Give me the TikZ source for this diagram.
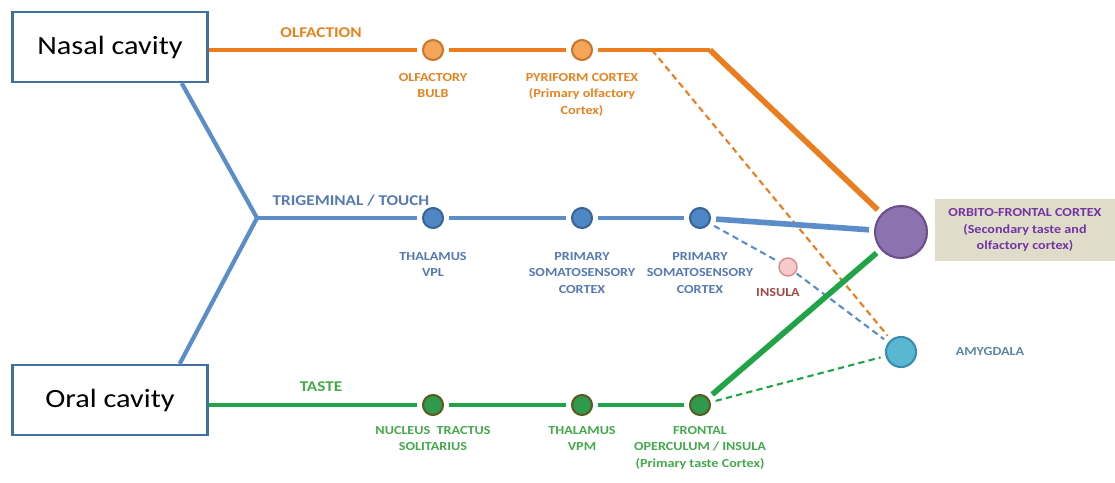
\documentclass[tikz,border=0pt]{standalone}
\usepackage{fontspec}
\setmainfont{Carlito}[FakeStretch=1.15]
\usepackage{xcolor}
\usetikzlibrary{positioning}

\definecolor{olfline}{HTML}{EC7D1F}
\definecolor{olffill}{HTML}{F5A55A}
\definecolor{olfedge}{HTML}{C8782E}
\definecolor{olftext}{HTML}{E8821E}
\definecolor{touchline}{HTML}{5B8DC8}
\definecolor{touchfill}{HTML}{4F86C6}
\definecolor{touchedge}{HTML}{3A6598}
\definecolor{touchtext}{HTML}{5479B5}
\definecolor{tasteline}{HTML}{21A448}
\definecolor{tastefill}{HTML}{2E9A4E}
\definecolor{tasteedge}{HTML}{5C5A22}
\definecolor{tastetext}{HTML}{43A94B}
\definecolor{ofcfill}{HTML}{8C72AE}
\definecolor{ofcedge}{HTML}{6B4F8E}
\definecolor{ofctext}{HTML}{7434A2}
\definecolor{ofcback}{HTML}{DFDDCA}
\definecolor{amygfill}{HTML}{5AB7D1}
\definecolor{amygedge}{HTML}{3B8CB0}
\definecolor{amygtext}{HTML}{5A87A3}
\definecolor{insfill}{HTML}{F6CACA}
\definecolor{insedge}{HTML}{D98C8C}
\definecolor{instext}{HTML}{A34A45}
\definecolor{boxedge}{HTML}{41719C}

\tikzset{
  cavity/.style={draw=boxedge, line width=1.4pt, minimum width=3.9cm, minimum height=1.4cm, font=\fontsize{15}{18}\selectfont},
  station/.style={circle, line width=1.2pt, minimum size=0.4cm, inner sep=0pt, outer sep=3.5pt},
  head/.style={font=\bfseries\fontsize{8.5}{10}\selectfont, inner sep=1pt},
  tag/.style={font=\bfseries\fontsize{7}{9.4}\selectfont, align=center, inner sep=1pt},
  mainline/.style={line width=2.4pt},
  ofclink/.style={line width=3.2pt},
  dashlink/.style={line width=1.2pt, dash pattern=on 3.6pt off 2.4pt}
}

\begin{document}
\begin{tikzpicture}[x=0.02cm,y=-0.02cm]
\useasboundingbox (0,0) rectangle (1115,483);

\node[cavity] (nasal) at (110,47) {Nasal cavity};
\node[cavity] (oral) at (110,400) {Oral cavity};

\node[station,fill=olffill,draw=olfedge] (bulb) at (433,50) {};
\node[station,fill=olffill,draw=olfedge] (pyri) at (582,50) {};
\node[station,fill=touchfill,draw=touchedge] (vpl) at (433,218) {};
\node[station,fill=touchfill,draw=touchedge] (somaone) at (582,218) {};
\node[station,fill=touchfill,draw=touchedge] (somatwo) at (700,218) {};
\node[station,fill=tastefill,draw=tasteedge] (nts) at (433,405) {};
\node[station,fill=tastefill,draw=tasteedge] (vpm) at (582,405) {};
\node[station,fill=tastefill,draw=tasteedge] (front) at (700,405) {};
\node[station,fill=ofcfill,draw=ofcedge,minimum size=1.04cm] (ofc) at (901,232) {};
\node[station,fill=amygfill,draw=amygedge,minimum size=0.6cm] (amyg) at (901,352) {};
\node[station,fill=insfill,draw=insedge,minimum size=0.36cm,line width=0.8pt,outer sep=1pt] (insula) at (788,267) {};

\coordinate (fork) at (257,218);
\coordinate (bend) at (710,50);
\coordinate (split) at (652,50);

\draw[mainline,olfline] (nasal.east |- bulb) -- (bulb);
\draw[mainline,olfline] (bulb) -- (pyri);
\draw[mainline,olfline] (pyri) -- (bend);
\draw[ofclink,olfline] (bend) -- (ofc);
\draw[dashlink,olfline] (split) -- (amyg);

\draw[mainline,touchline] ([xshift=-0.54cm]nasal.south east) -- (fork) -- ([xshift=-0.58cm]oral.north east);
\draw[mainline,touchline] (fork) -- (vpl);
\draw[mainline,touchline] (vpl) -- (somaone);
\draw[mainline,touchline] (somaone) -- (somatwo);
\draw[ofclink,touchline] (somatwo) -- (ofc);
\draw[dashlink,touchline] (somatwo) -- (insula) -- (amyg);

\draw[mainline,tasteline] (oral.east |- nts) -- (nts);
\draw[mainline,tasteline] (nts) -- (vpm);
\draw[mainline,tasteline] (vpm) -- (front);
\draw[ofclink,tasteline] (front) -- (ofc);
\draw[dashlink,tasteline] (front) -- (amyg);

\node[head,olftext] (olftag) at (321,33) {OLFACTION};
\node[head,touchtext] (touchtag) at (351,201) {TRIGEMINAL / TOUCH};
\node[head,tastetext] (tastetag) at (321,387) {TASTE};

\node[tag,olftext,below=0.1cm of bulb] (bulbtag) {OLFACTORY\\BULB};
\node[tag,olftext,below=0.1cm of pyri] (pyritag) {PYRIFORM CORTEX\\(Primary olfactory\\Cortex)};
\node[tag,touchtext,below=0.32cm of vpl] (vpltag) {THALAMUS\\VPL};
\node[tag,touchtext,below=0.32cm of somaone] (somaonetag) {PRIMARY\\SOMATOSENSORY\\CORTEX};
\node[tag,touchtext,below=0.32cm of somatwo] (somatwotag) {PRIMARY\\SOMATOSENSORY\\CORTEX};
\node[tag,tastetext,below=0.06cm of nts] (ntstag) {NUCLEUS\ \ TRACTUS\\SOLITARIUS};
\node[tag,tastetext,below=0.06cm of vpm] (vpmtag) {THALAMUS\\VPM};
\node[tag,tastetext,below=0.06cm of front] (fronttag) {FRONTAL\\OPERCULUM / INSULA\\(Primary taste Cortex)};
\node[tag,instext] (instag) at (778,293) {INSULA};
\node[tag,amygtext] (amygtag) at (990,352) {AMYGDALA};
\node[tag,ofctext,fill=ofcback,minimum width=3.6cm,minimum height=1.24cm] (ofctag) at (1025,230) {ORBITO-FRONTAL CORTEX\\(Secondary taste and\\olfactory cortex)};
\end{tikzpicture}
\end{document}
